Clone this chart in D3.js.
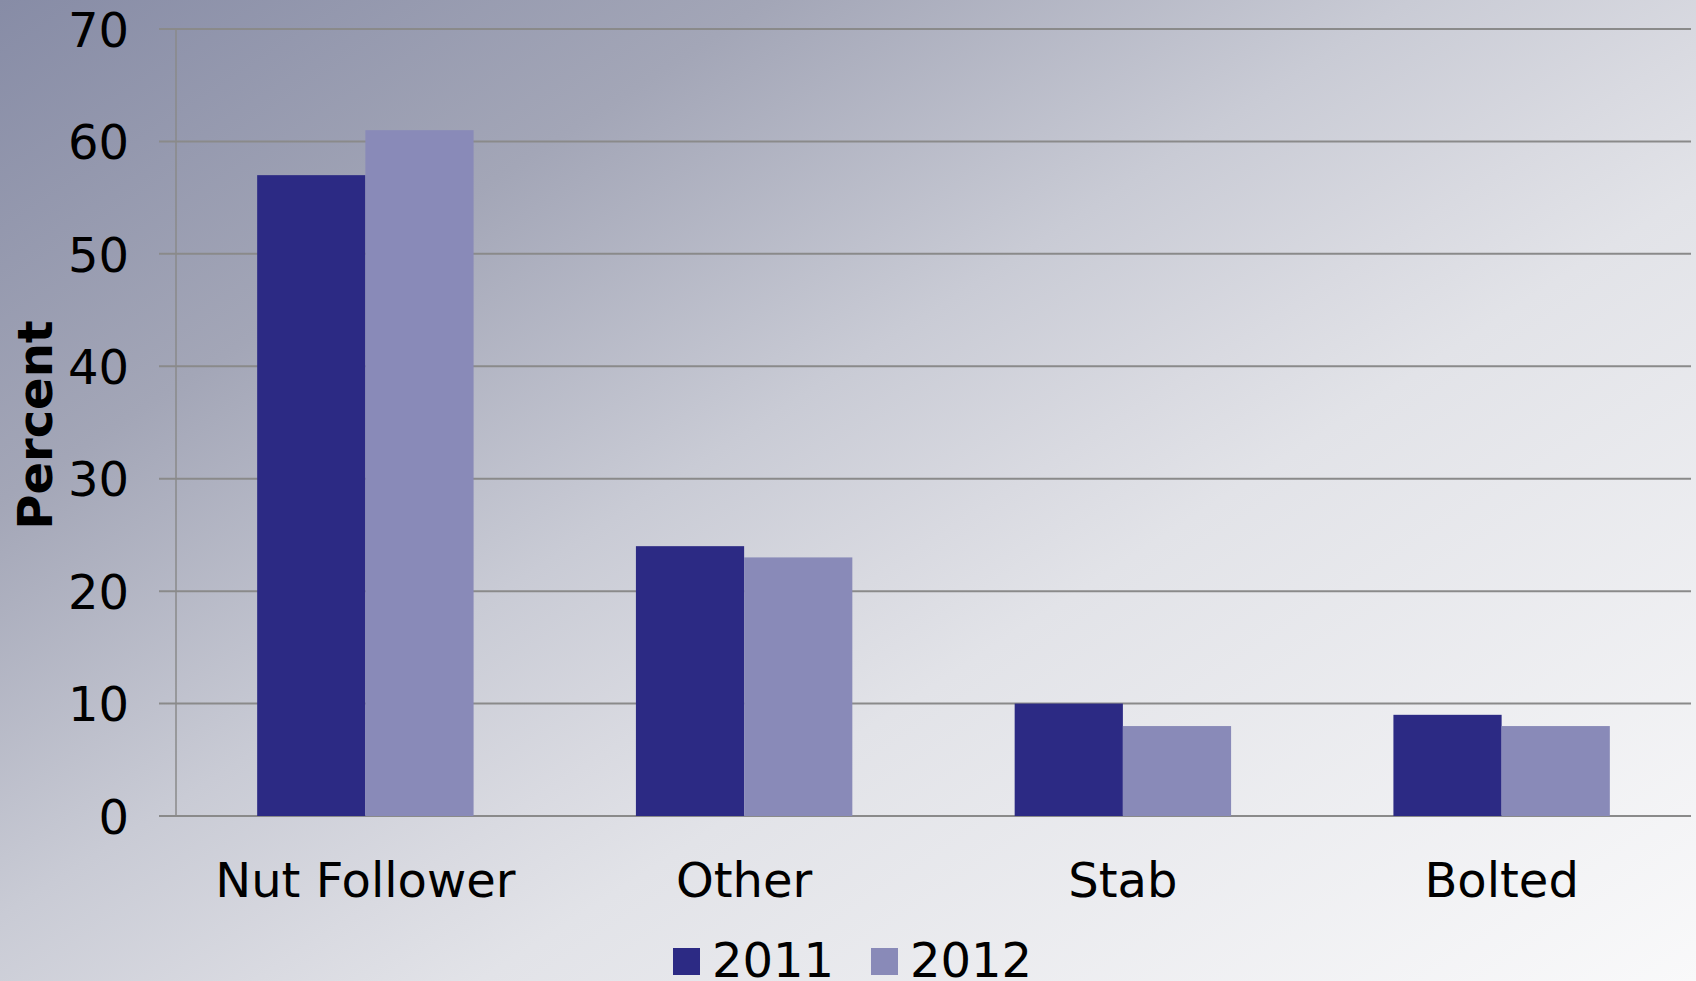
<!DOCTYPE html>
<html>
<head>
<meta charset="utf-8">
<script src="https://cdn.jsdelivr.net/npm/d3@7"></script>
<style>
  body { margin: 0; overflow: hidden; }
  svg { display: block; font-family: "DejaVu Sans", Verdana, sans-serif; }
</style>
</head>
<body>
<div id="chart"></div>
<script>
// Categories and series
const categories = ["Nut Follower", "Other", "Stab", "Bolted"];
const seriesNames = ["2011", "2012"];
const values2011 = [57, 24, 10, 9];
const values2012 = [61, 23, 8, 8];
const yTicks = [0, 10, 20, 30, 40, 50, 60, 70];

const colors = ["#2c2a84", "#898ab8"];

const width = 1696;
const height = 981;
const plot = { left: 176, right: 1691, top: 29, bottom: 816 };

const svg = d3.select("#chart")
  .append("svg")
  .attr("width", width)
  .attr("height", height);

// Background gradient (dark top-left to light bottom-right)
const defs = svg.append("defs");
const grad = defs.append("linearGradient")
  .attr("id", "bg")
  .attr("gradientUnits", "userSpaceOnUse")
  .attr("x1", 0).attr("y1", 0)
  .attr("x2", 952).attr("y2", 1466);
[[0, "#878ca6"], [0.24, "#a3a6b7"], [0.44, "#c9cbd5"], [0.55, "#d9dae1"],
 [0.62, "#e2e3e8"], [1, "#f9f9fa"]].forEach(s => {
  grad.append("stop").attr("offset", s[0]).attr("stop-color", s[1]);
});
svg.append("rect")
  .attr("width", width)
  .attr("height", height)
  .attr("fill", "url(#bg)");

// Scales
const x0 = d3.scaleBand()
  .domain(categories)
  .range([plot.left, plot.right])
  .paddingInner(0.4286)
  .paddingOuter(0.2143);

const x1 = d3.scaleBand()
  .domain(seriesNames)
  .range([0, x0.bandwidth()]);

const y = d3.scaleLinear()
  .domain([0, 70])
  .range([plot.bottom, plot.top]);

// Gridlines
svg.append("g")
  .selectAll("line")
  .data(yTicks)
  .enter()
  .append("line")
  .attr("x1", plot.left - 17)
  .attr("x2", plot.right)
  .attr("y1", d => y(d))
  .attr("y2", d => y(d))
  .attr("stroke", "#8a8a8a")
  .attr("stroke-width", 2);

// Bars
const rows = categories.map((c, i) => ({ category: c, vals: [values2011[i], values2012[i]] }));

const groups = svg.append("g")
  .selectAll("g")
  .data(rows)
  .enter()
  .append("g")
  .attr("transform", d => `translate(${x0(d.category)},0)`);

groups.selectAll("rect")
  .data(d => d.vals.map((v, i) => ({ key: seriesNames[i], value: v, i: i })))
  .enter()
  .append("rect")
  .attr("x", d => x1(d.key))
  .attr("y", d => y(d.value))
  .attr("width", x1.bandwidth())
  .attr("height", d => y(0) - y(d.value))
  .attr("fill", d => colors[d.i]);

// Y axis
const yAxis = d3.axisLeft(y)
  .tickValues(yTicks)
  .tickSize(17)
  .tickPadding(30);

const gy = svg.append("g")
  .attr("transform", `translate(${plot.left},0)`)
  .call(yAxis);
gy.select(".domain")
  .attr("d", `M0,${plot.top}V${plot.bottom}`)
  .attr("stroke", "#8a8a8a")
  .attr("stroke-width", 1.5);
gy.selectAll(".tick line").remove();
gy.selectAll(".tick text")
  .attr("font-family", "DejaVu Sans")
  .attr("font-size", 48)
  .attr("fill", "#000")
  .attr("dy", "0.36em");

// X category labels
svg.append("g")
  .selectAll("text")
  .data(categories)
  .enter()
  .append("text")
  .attr("x", d => x0(d) + x0.bandwidth() / 2)
  .attr("y", 897)
  .attr("text-anchor", "middle")
  .attr("font-size", 48)
  .attr("fill", "#000")
  .text(d => d);

// Y title
svg.append("text")
  .attr("transform", "translate(52,425) rotate(-90)")
  .attr("text-anchor", "middle")
  .attr("font-size", 48)
  .attr("font-weight", "bold")
  .attr("fill", "#000")
  .text("Percent");

// Legend
const legendX = [673, 871];
const legend = svg.append("g")
  .selectAll("g")
  .data(seriesNames)
  .enter()
  .append("g")
  .attr("transform", (d, i) => `translate(${legendX[i]},0)`);

legend.append("rect")
  .attr("y", 948)
  .attr("width", 27)
  .attr("height", 27)
  .attr("fill", (d, i) => colors[i]);

legend.append("text")
  .attr("x", 39)
  .attr("y", 977)
  .attr("font-size", 48)
  .attr("fill", "#000")
  .text(d => d);
</script>
</body>
</html>
